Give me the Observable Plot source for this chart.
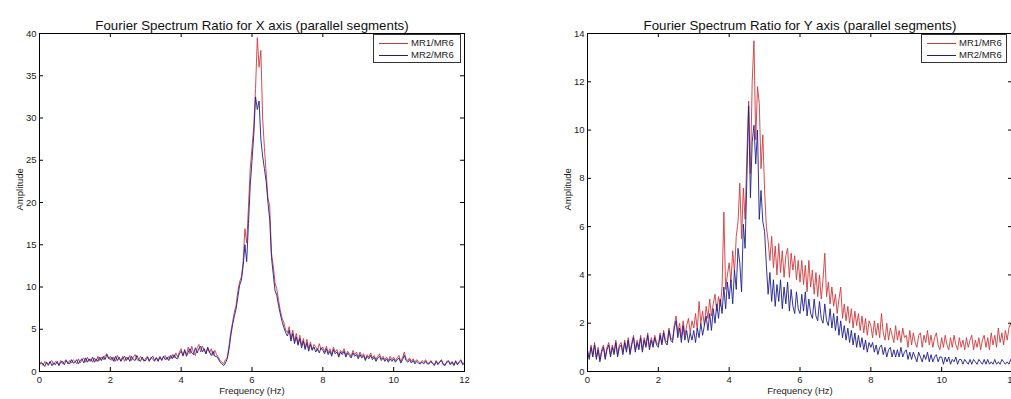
<!DOCTYPE html>
<html><head><meta charset="utf-8">
<script src="https://cdn.jsdelivr.net/npm/d3@7"></script>
<script src="https://cdn.jsdelivr.net/npm/@observablehq/plot@0.6"></script>
<style>
html,body{margin:0;padding:0;background:#fff;overflow:hidden;}
#wrap{position:relative;width:1011px;height:399px;overflow:hidden;background:#fff;}
.panel{position:absolute;top:0;}
.legend{position:absolute;top:34px;height:27px;border:1px solid #333;background:#fff;font:9.5px "Liberation Sans",Arial,sans-serif;color:#222;}
.row{position:absolute;left:5px;height:12px;line-height:12px;white-space:nowrap;}
.row span.ln{display:inline-block;width:29px;height:1px;vertical-align:middle;margin-right:3px;}
</style></head>
<body><div id="wrap"></div>
<script>
// frequency grid step (Hz)
const freqStep = 0.05;
const seriesNames = ["MR1/MR6", "MR2/MR6"];
const seriesColors = ["#d0393b", "#1d1d8e"];
const xTicks = [0, 2, 4, 6, 8, 10, 12];
const yTicksX = [0, 5, 10, 15, 20, 25, 30, 35, 40];
const yTicksY = [0, 2, 4, 6, 8, 10, 12, 14];

// X axis panel
const xMR1 = [
0.9,1.1,0.7,1.2,0.9,0.7,1.1,1.3,0.8,1.2,1.0,0.8,1.3,0.9,1.2,1.4,0.9,1.3,1.0,1.4,
1.2,0.9,1.5,1.0,1.4,1.6,1.1,1.7,1.2,1.5,1.1,1.6,1.2,1.8,1.3,1.7,1.4,1.9,2.1,1.5,
1.8,1.3,1.7,1.2,1.9,1.4,1.3,1.8,1.2,1.7,1.4,1.9,1.3,1.7,2.0,1.4,1.3,1.8,1.5,1.2,
1.6,1.8,1.3,1.7,1.4,1.2,1.7,1.3,1.8,1.4,1.7,1.9,1.4,1.8,1.5,2.0,1.6,2.2,1.7,2.3,
2.7,1.8,2.4,2.0,2.9,2.1,3.0,2.2,1.9,2.8,3.2,2.3,3.0,2.5,2.1,2.9,2.2,2.7,1.9,2.5,
2.0,1.7,1.3,1.1,0.9,1.4,1.6,3.0,4.6,5.8,7.0,7.8,9.5,10.6,11.2,13.0,16.9,15.2,19.5,24.0,
26.5,29.0,33.5,39.5,36.0,38.0,30.0,26.5,23.5,20.5,19.6,14.0,12.5,10.5,9.8,8.4,7.2,6.3,5.8,4.9,
4.6,5.3,3.9,4.9,3.6,4.5,3.3,4.3,3.1,3.9,2.8,3.8,2.7,3.5,2.6,3.2,2.9,2.5,3.3,2.6,
2.9,2.3,3.0,2.2,2.7,2.0,2.9,2.3,2.6,1.9,2.5,2.2,2.7,1.9,2.4,2.1,1.8,2.5,2.0,2.3,
1.7,2.3,1.8,2.1,1.5,2.0,1.7,2.2,1.6,1.9,1.4,1.8,2.1,1.5,1.8,1.4,1.7,1.3,1.8,1.4,
1.7,1.3,1.6,1.9,1.2,1.6,2.3,1.5,1.3,1.6,1.2,1.5,1.1,1.4,1.2,1.0,1.3,1.1,1.4,1.0,
1.0,1.3,1.0,0.8,1.3,0.9,1.2,1.4,0.9,0.8,1.2,1.3,0.9,1.2,0.8,1.3,0.9,1.2,1.4,0.9,1.1];
const xMR2 = [
0.8,1.0,0.9,0.6,1.1,0.8,1.2,0.7,1.0,0.8,1.2,0.7,1.1,1.2,0.8,1.3,1.0,0.9,1.4,1.0,
1.1,1.4,0.9,1.3,1.5,1.0,1.6,1.1,1.5,1.2,1.7,1.1,1.5,1.2,1.7,1.3,1.8,1.4,2.0,1.6,
1.4,1.7,1.2,1.8,1.3,1.7,1.2,1.6,1.8,1.3,1.7,1.2,1.8,1.4,1.3,1.9,1.4,1.2,1.7,1.3,
1.3,1.7,1.2,1.6,1.8,1.3,1.6,1.2,1.7,1.3,1.8,1.4,1.7,1.3,1.9,1.5,2.0,1.6,1.5,2.1,
2.4,1.9,2.6,1.8,2.3,2.7,2.2,2.0,2.8,2.2,2.7,3.0,2.3,2.7,2.1,2.8,2.3,1.9,2.4,1.8,
1.8,1.5,1.1,0.9,0.7,1.0,1.5,2.6,4.2,5.5,6.5,7.4,8.8,10.2,10.8,12.5,15.0,13.0,17.5,22.0,
25.0,28.0,32.5,31.0,32.0,27.5,25.5,24.0,22.5,20.0,18.0,13.5,11.5,9.6,9.0,7.8,6.8,5.9,5.2,4.6,
4.2,4.9,3.6,4.5,3.3,4.1,3.1,3.9,2.8,3.6,2.6,3.4,2.4,3.2,2.5,2.9,2.3,2.7,2.2,2.8,
2.5,2.1,2.7,2.0,2.4,1.8,2.6,2.1,2.3,1.7,2.3,2.0,2.4,1.7,2.2,1.9,1.6,2.2,1.8,2.0,
1.5,2.0,1.6,1.9,1.3,1.8,1.5,1.9,1.4,1.7,1.2,1.6,1.8,1.3,1.6,1.2,1.5,1.1,1.5,1.2,
1.5,1.1,1.4,1.6,1.0,1.4,1.9,1.3,1.1,1.4,1.0,1.3,0.9,1.2,1.0,0.9,1.1,0.9,1.2,0.9,
0.9,1.2,0.9,0.7,1.2,0.8,1.1,1.3,0.8,0.7,1.1,1.2,0.8,1.1,0.7,1.2,0.8,1.1,1.3,0.8,1.0];

// Y axis panel
const yMR1 = [
0.9,0.6,1.1,0.7,1.2,0.6,1.0,0.5,0.9,1.1,0.6,1.0,1.2,0.7,1.1,0.8,1.3,0.7,1.1,1.2,
0.8,1.3,0.9,1.4,0.8,1.2,1.5,0.9,1.3,1.0,1.5,0.9,1.4,1.1,1.6,1.0,1.4,1.1,1.5,1.2,
1.1,1.6,1.2,1.7,1.3,1.2,1.8,1.4,1.3,1.9,2.3,1.6,2.0,1.4,2.1,1.5,1.9,2.2,1.6,2.1,
1.8,2.4,1.7,2.9,2.0,2.5,1.9,2.7,2.2,3.0,2.3,2.8,3.2,2.5,3.1,2.7,3.5,6.6,3.4,4.0,
4.5,3.7,5.0,4.1,5.6,6.2,7.8,5.5,7.6,6.3,9.0,11.2,8.2,12.0,13.7,9.6,11.8,11.1,8.4,9.8,
7.5,6.0,5.4,4.6,5.6,4.3,5.2,4.0,5.3,4.1,5.0,3.9,4.8,5.1,3.9,4.9,4.2,4.8,3.8,4.6,
3.7,4.6,3.6,4.4,3.3,4.6,3.5,4.2,3.2,4.1,3.1,4.0,3.0,3.8,4.9,3.1,3.7,2.8,3.5,2.7,
3.2,2.4,3.0,3.5,2.2,2.8,2.1,2.7,2.0,2.6,1.8,2.5,1.9,2.4,1.7,2.3,1.6,2.2,1.5,2.1,
1.9,1.4,2.1,1.5,2.0,1.4,2.4,1.6,1.3,2.0,1.3,1.8,1.5,1.2,1.9,1.3,1.7,1.2,1.8,1.4,
1.5,1.0,1.7,1.1,1.6,1.2,1.0,1.5,1.6,1.0,1.5,1.2,1.7,1.1,1.5,1.0,1.4,1.6,1.1,0.9,
1.4,1.0,1.5,1.1,0.9,1.4,1.0,1.5,1.1,0.9,1.4,1.0,1.3,0.9,1.4,1.0,1.3,1.5,0.9,1.3,
1.0,1.4,0.9,1.3,1.5,1.0,1.4,0.9,1.6,1.1,1.5,1.0,1.8,1.2,1.6,1.1,1.7,1.3,1.8,2.0,1.6];
const yMR2 = [
0.8,0.5,1.0,0.6,1.1,0.5,0.9,0.4,0.8,1.0,0.5,0.9,1.1,0.6,1.0,0.7,1.2,0.6,1.0,1.1,
0.7,1.2,0.8,1.3,0.7,1.1,1.4,0.8,1.2,0.9,1.4,0.8,1.3,1.0,1.5,0.9,1.3,1.0,1.4,1.1,
1.0,1.5,1.1,1.6,1.2,1.1,1.7,1.3,1.2,1.8,2.1,1.4,1.8,1.2,1.9,1.3,1.7,1.2,1.6,1.3,
1.7,1.2,1.8,1.4,2.0,1.5,1.9,2.3,1.7,2.4,1.7,2.6,2.0,2.8,2.2,3.0,2.4,3.5,2.6,3.7,
3.0,3.8,2.8,4.2,3.4,5.1,4.5,3.3,6.1,5.1,8.0,11.0,7.2,9.5,10.2,8.6,10.0,6.3,7.5,6.2,
5.8,4.4,3.2,4.1,2.9,3.8,2.7,3.6,2.9,3.8,2.6,3.5,2.8,3.7,2.5,3.4,2.7,2.4,3.3,2.6,
2.4,3.2,2.5,3.3,2.3,3.0,2.4,2.2,3.0,2.3,2.1,2.9,2.2,2.0,2.8,2.1,1.9,2.6,1.8,2.4,
1.7,2.3,1.5,2.1,1.4,1.9,1.3,1.8,1.2,1.7,1.1,1.6,1.0,1.5,1.0,1.4,0.9,1.3,0.8,1.2,
1.0,1.2,0.8,1.1,0.7,1.0,1.1,0.7,1.0,0.6,0.9,1.0,0.6,0.9,0.6,0.9,0.6,1.0,0.6,0.8,
0.9,0.5,0.8,0.5,0.8,0.6,0.4,0.8,0.6,0.4,0.7,0.5,0.8,0.4,0.7,0.4,0.6,0.7,0.4,0.6,
0.6,0.3,0.6,0.4,0.6,0.3,0.5,0.4,0.6,0.3,0.5,0.5,0.3,0.5,0.4,0.3,0.5,0.3,0.5,0.4,
0.3,0.5,0.4,0.3,0.5,0.3,0.5,0.3,0.4,0.3,0.5,0.3,0.4,0.3,0.5,0.4,0.3,0.4,0.3,0.5,0.3];

const toPts = (vals) => vals.map((v, i) => ({f: +(i * freqStep).toFixed(2), v}));

const W = 480, H = 399, mL = 39, mR = 16, mT = 33, mB = 28;
const plotW = W - mL - mR, plotH = H - mT - mB;
const font = "'Liberation Sans', Arial, sans-serif";

function panel(title, yMax, yTicks, s1, s2, left) {
  const chart = Plot.plot({
    width: W, height: H,
    marginLeft: mL, marginRight: mR, marginTop: mT, marginBottom: mB,
    style: {fontFamily: font, fontSize: "9.5px", color: "#222", background: "white", overflow: "visible"},
    x: {domain: [0, 12], label: null},
    y: {domain: [0, yMax], label: null},
    marks: [
      Plot.line(toPts(s1), {x: "f", y: "v", stroke: seriesColors[0], strokeWidth: 0.9}),
      Plot.line(toPts(s2), {x: "f", y: "v", stroke: seriesColors[1], strokeWidth: 0.9}),
      Plot.frame({stroke: "#000", strokeWidth: 1}),
      Plot.tickX(xTicks, {x: d => d, insetTop: plotH - 4, stroke: "#000"}),
      Plot.tickX(xTicks, {x: d => d, insetBottom: plotH - 4, stroke: "#000"}),
      Plot.tickY(yTicks, {y: d => d, insetRight: plotW - 4, stroke: "#000"}),
      Plot.tickY(yTicks, {y: d => d, insetLeft: plotW - 4, stroke: "#000"}),
      Plot.axisX({ticks: xTicks, tickSize: 0, tickPadding: 5, label: null}),
      Plot.axisY({ticks: yTicks, tickSize: 0, tickPadding: 3, label: null}),
      Plot.text([title], {frameAnchor: "top", dy: -13, fontSize: 13.3, fill: "#111"}),
      Plot.text(["Frequency (Hz)"], {frameAnchor: "bottom", dy: 22, fontSize: 9.5, fill: "#222"}),
      Plot.text(["Amplitude"], {frameAnchor: "left", dx: -20, dy: 8, rotate: -90, fontSize: 9.5, fill: "#222"})
    ]
  });
  chart.classList.add("panel");
  chart.style.left = left + "px";
  return chart;
}

function legend(left, width) {
  const d = document.createElement("div");
  d.className = "legend";
  d.style.left = left + "px";
  d.style.width = width + "px";
  seriesNames.forEach((n, i) => {
    const r = document.createElement("div");
    r.className = "row";
    r.style.top = (i === 0 ? 2 : 14) + "px";
    r.innerHTML = `<span class="ln" style="background:${seriesColors[i]}"></span>${n}`;
    d.appendChild(r);
  });
  return d;
}

const wrap = document.getElementById("wrap");
wrap.appendChild(panel("Fourier Spectrum Ratio for X axis (parallel segments)", 40, yTicksX, xMR1, xMR2, 0));
wrap.appendChild(panel("Fourier Spectrum Ratio for Y axis (parallel segments)", 14, yTicksY, yMR1, yMR2, 548));
wrap.appendChild(legend(373, 86));
wrap.appendChild(legend(921, 84));
</script>
</body></html>
